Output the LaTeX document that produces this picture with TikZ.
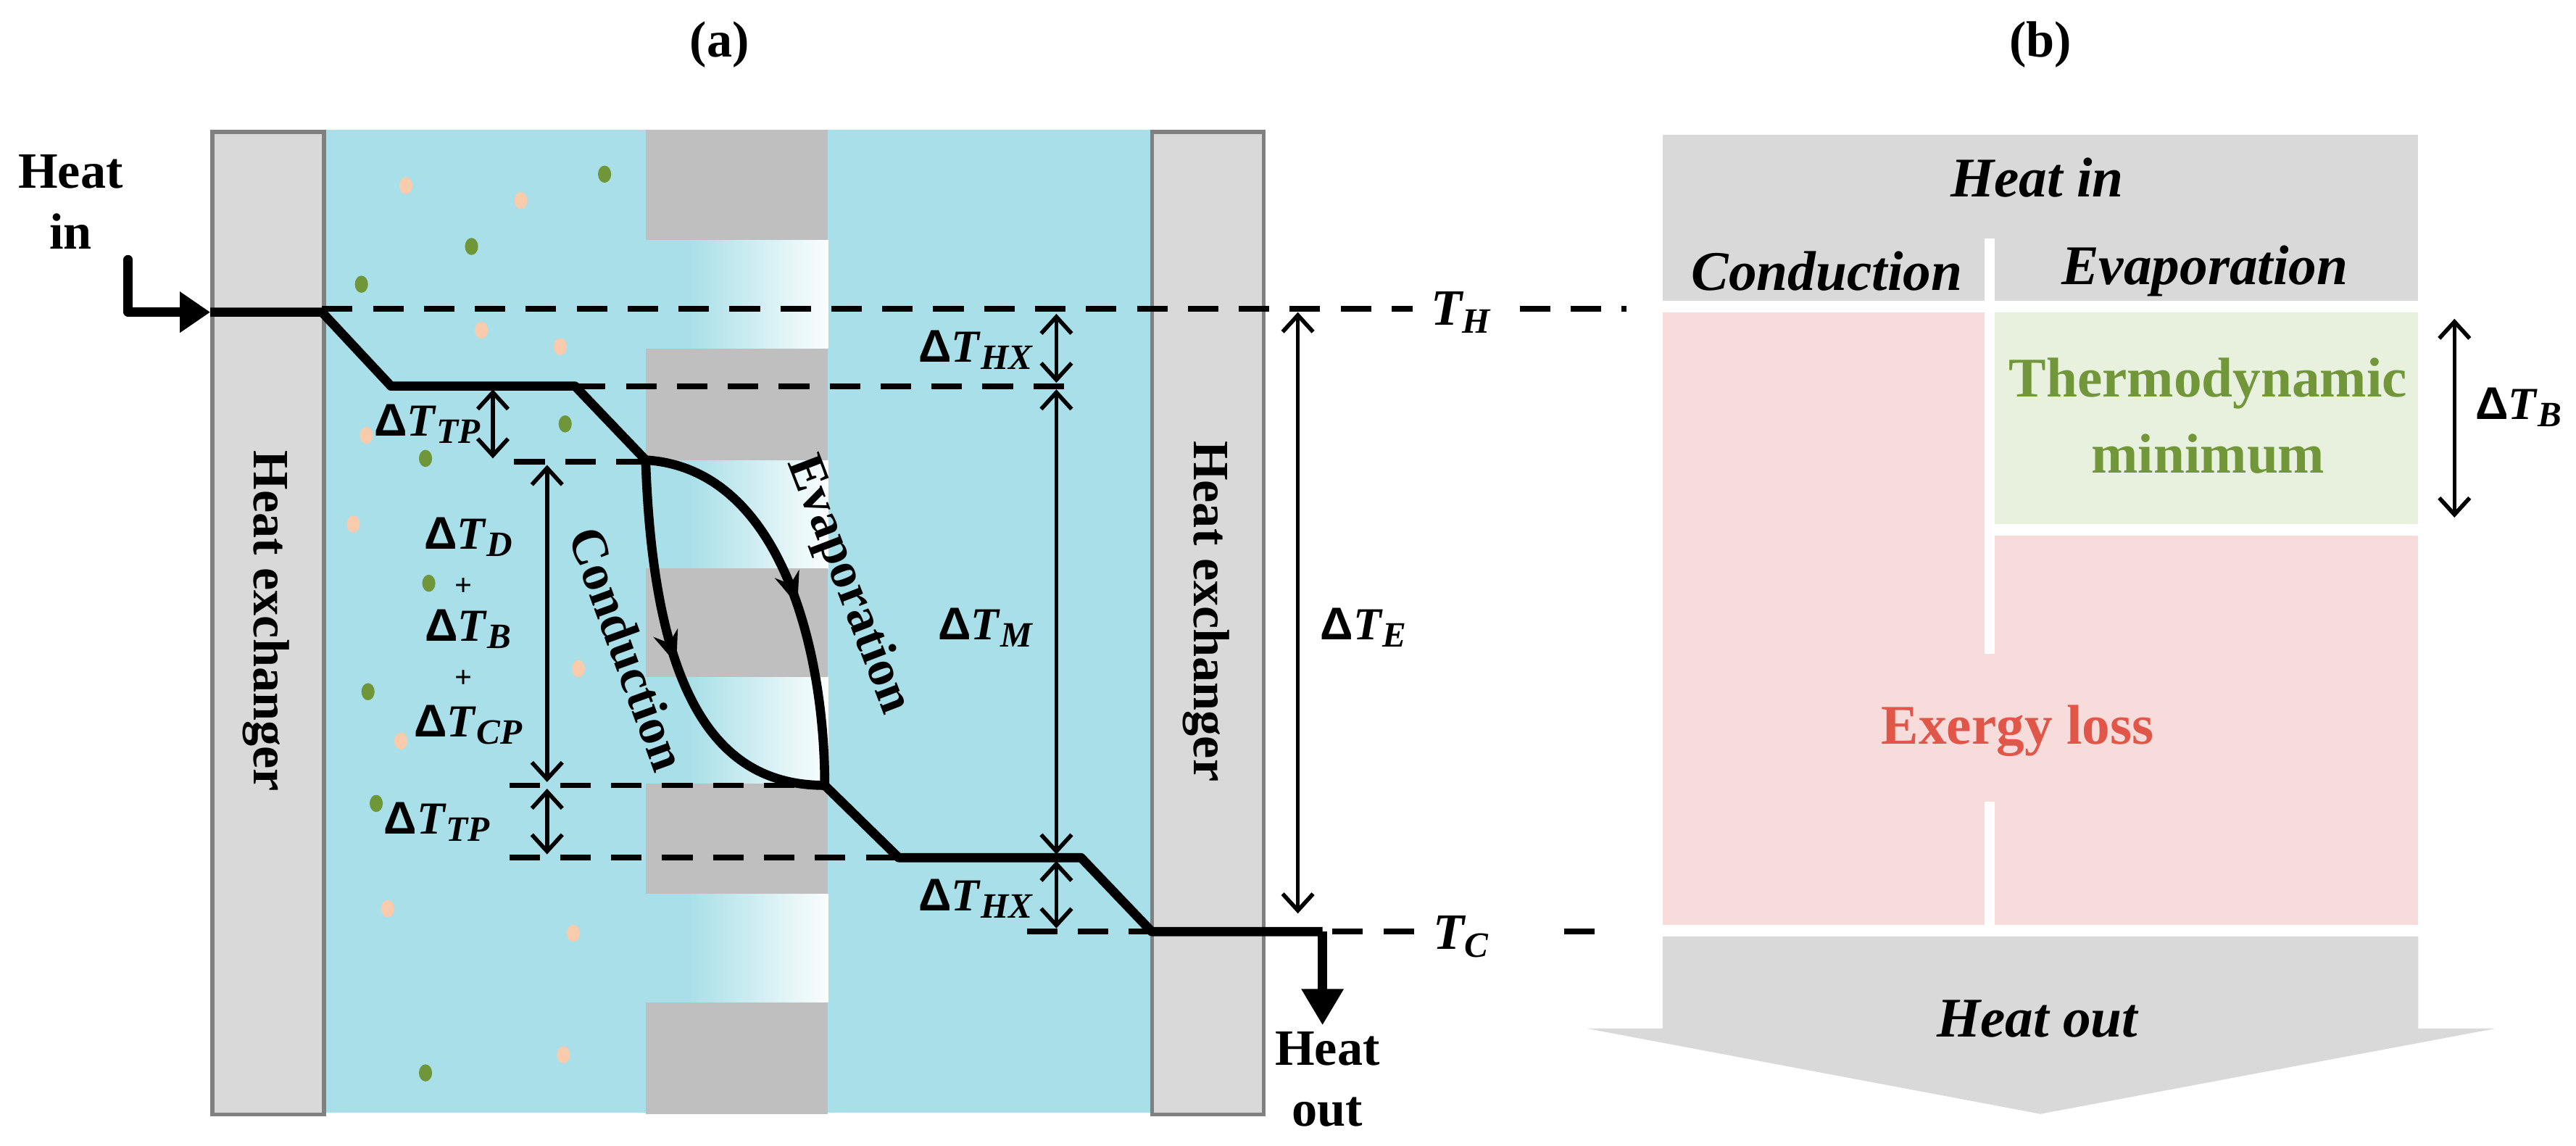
\documentclass[tikz,border=0pt]{standalone}
\usepackage{fontspec}
\setmainfont{Liberation Serif}
\newfontfamily\arialf{Liberation Sans}
\usetikzlibrary{arrows.meta,decorations.markings}
\definecolor{water}{HTML}{A8DFE8}
\definecolor{memb}{HTML}{BFBFBF}
\definecolor{hxg}{HTML}{D9D9D9}
\definecolor{hxb}{HTML}{808080}
\definecolor{dotor}{HTML}{F8CBAD}
\definecolor{dotgr}{HTML}{70963A}
\definecolor{pinkb}{HTML}{F8DCDB}
\definecolor{greenb}{HTML}{E8F1DE}
\definecolor{greent}{HTML}{72963A}
\definecolor{redt}{HTML}{E0574A}
\newcommand\dT[1]{{\arialf\bfseries Δ}\textit{T}\raisebox{-0.35ex}{\fontsize{14}{14}\selectfont\textit{#1}}}
\begin{document}
\begin{tikzpicture}[x=0.02267cm,y=-0.02267cm,
  lbl/.style={font=\fontsize{20}{22}\selectfont\bfseries},
  dlbl/.style={font=\fontsize{18}{20}\selectfont\bfseries},
  blbl/.style={font=\fontsize{22}{26}\selectfont\bfseries\itshape},
  heat/.style={line width=3.6pt,line join=round},
  dashl/.style={line width=2.2pt,dash pattern=on 12pt off 8pt},
  dim/.style={line width=1.6pt,{Straight Barb[length=0.23cm,width=0.42cm]}-{Straight Barb[length=0.23cm,width=0.42cm]}},
  dot1/.style={fill=dotor,draw=none},
  dot2/.style={fill=dotgr,draw=none},
  midarrow/.style={postaction={decorate},decoration={markings,mark=at position #1 with {\arrow{Stealth[length=0.45cm,width=0.35cm]}}}}]
\useasboundingbox (0,0) rectangle (1568,697.5);
% water
\fill[water] (196,79) rectangle (702,677);
% membrane
\foreach \a/\b in {146/212,280/346,412/477,544/610}{
  \fill[water] (393,\a) rectangle (419,\b);
  \shade[left color=water,right color=white!95!water] (419,\a) rectangle (504,\b);}
\foreach \a/\b in {79/146,212/280,346/412,477/544,610/678}{
  \fill[memb] (393,\a) rectangle (504,\b);}
% dots
\foreach \x/\y in {247/113,317/122,293/201,341/211,223/265,215/319,352/407,244/451,236/553,349/568,343/642}
  \fill[dot1] (\x,\y) ellipse (4 and 5.2);
\foreach \x/\y in {368/106,287/150,220/173,344/258,259/279,261/355,224/421,229/489,259/653}
  \fill[dot2] (\x,\y) ellipse (4 and 5.2);
% heat exchangers
\node[draw=hxb,fill=hxg,line width=1.6pt,minimum width=68*0.02267cm,minimum height=598*0.02267cm,anchor=north west] (hxL) at (128,79) {};
\node[draw=hxb,fill=hxg,line width=1.6pt,minimum width=68*0.02267cm,minimum height=598*0.02267cm,anchor=north west] (hxR) at (700,79) {};
\node[lbl,rotate=-90] (hxLt) at (162,378) {Heat exchanger};
\node[lbl,rotate=-90] (hxRt) at (734,372) {Heat exchanger};
% titles
\node[lbl] (ta) at (438,27) {(a)};
\node[lbl] (tb) at (1242,27) {(b)};
% dashed lines
\coordinate (dH1) at (196,188); \coordinate (dH2) at (860,188);
\coordinate (dH3) at (925,188); \coordinate (dH4) at (990,188);
\draw[dashl] (dH1) -- (dH2); \draw[dashl] (dH3) -- (dH4);
\node[font=\fontsize{20}{22}\selectfont\bfseries\itshape] (TH) at (889,190) {T\raisebox{-0.35ex}{\fontsize{14}{14}\selectfont H}};
\coordinate (d2a) at (350,235); \coordinate (d2b) at (657,235); \draw[dashl] (d2a) -- (d2b);
\coordinate (d3a) at (313,281); \coordinate (d3b) at (393,281); \draw[dashl] (d3a) -- (d3b);
\coordinate (d4a) at (310,478); \coordinate (d4b) at (502,478); \draw[dashl] (d4a) -- (d4b);
\coordinate (d5a) at (310,522); \coordinate (d5b) at (547,522); \draw[dashl] (d5a) -- (d5b);
\coordinate (d6a) at (625,567); \coordinate (d6b) at (862,567); \draw[dashl] (d6a) -- (d6b);
\coordinate (d6c) at (952,567); \coordinate (d6d) at (975,567); \draw[dashl] (d6c) -- (d6d);
\node[font=\fontsize{20}{22}\selectfont\bfseries\itshape] (TC) at (889,570) {T\raisebox{-0.35ex}{\fontsize{14}{14}\selectfont C}};
% heat path
\coordinate (p0) at (78,158); \coordinate (p1) at (78,190); \coordinate (p2) at (128,190);
\coordinate (p3) at (196,190); \coordinate (p4) at (238,235); \coordinate (p5) at (350,235);
\coordinate (p6) at (393,280); \coordinate (p7) at (502,478); \coordinate (p8) at (547,522);
\coordinate (p9) at (658,522); \coordinate (p10) at (701,567); \coordinate (p11) at (805,567);
\coordinate (p12) at (805,624);
\draw[heat,line cap=round,-{Triangle[length=0.42cm,width=0.54cm]}] (p0) -- (p1) -- (p2);
\draw[heat] (p2) -- (p3) -- (p4) -- (p5) -- (p6);
\draw[heat] (p7) -- (p8) -- (p9) -- (p10) -- (p11);
\draw[heat,-{Triangle[length=0.5cm,width=0.55cm]}] (p11) -- (p12);
\draw[heat,midarrow=0.5] (p6) .. controls (398,430) and (440,478) .. (p7);
\draw[heat,midarrow=0.55] (p6) .. controls (475,285) and (502,395) .. (p7);
\node[lbl,rotate=-70] (cond) at (382,395) {Conduction};
\node[lbl,rotate=-69] (evap) at (516,356) {Evaporation};
% heat in/out
\node[font=\fontsize{20}{24}\selectfont\bfseries,align=center] (hin) at (43,123) {Heat\\in};
\node[font=\fontsize{20}{24}\selectfont\bfseries,align=center] (hout) at (808,657) {Heat\\out};
% dimension arrows
\coordinate (a1t) at (643,191); \coordinate (a1b) at (643,233); \draw[dim] (a1t) -- (a1b);
\node[dlbl] (l1) at (594,213) {\dT{HX}};
\coordinate (a2t) at (300,237); \coordinate (a2b) at (300,279); \draw[dim] (a2t) -- (a2b);
\node[dlbl] (l2) at (260,258) {\dT{TP}};
\coordinate (a3t) at (333,283); \coordinate (a3b) at (333,476); \draw[dim] (a3t) -- (a3b);
\node[dlbl] (l3a) at (285,327) {\dT{D}};
\node[font=\fontsize{12}{14}\selectfont\bfseries] (l3p1) at (282,357) {+};
\node[dlbl] (l3b) at (285,383) {\dT{B}};
\node[font=\fontsize{12}{14}\selectfont\bfseries] (l3p2) at (282,413) {+};
\node[dlbl] (l3c) at (285,441) {\dT{CP}};
\coordinate (a4t) at (333,480); \coordinate (a4b) at (333,520); \draw[dim] (a4t) -- (a4b);
\node[dlbl] (l4) at (266,500) {\dT{TP}};
\coordinate (a5t) at (643,237); \coordinate (a5b) at (643,520); \draw[dim] (a5t) -- (a5b);
\node[dlbl] (l5) at (600,382) {\dT{M}};
\coordinate (a6t) at (643,524); \coordinate (a6b) at (643,565); \draw[dim] (a6t) -- (a6b);
\node[dlbl] (l6) at (594,547) {\dT{HX}};
\coordinate (a7t) at (790,190); \coordinate (a7b) at (790,556); \draw[dim] (a7t) -- (a7b);
\node[dlbl] (l7) at (830,382) {\dT{E}};
% panel b
\fill[hxg] (1012,82) rectangle (1472,183);
\fill[white] (1208,145) rectangle (1214,183);
\fill[pinkb] (1012,190) rectangle (1208,563);
\fill[greenb] (1214,190) rectangle (1472,319);
\fill[pinkb] (1214,326) rectangle (1472,563);
\fill[pinkb] (1207,398) rectangle (1215,488);
\fill[hxg] (1012,570) -- (1472,570) -- (1472,626) -- (1519,626) -- (1242,678) -- (966,626) -- (1012,626) -- cycle;
\node[blbl] (bin) at (1240,108) {Heat in};
\node[blbl] (bcond) at (1112,165) {Conduction};
\node[blbl] (bevap) at (1342,165) {Evaporation};
\node[font=\fontsize{22}{30}\selectfont\bfseries,text=greent,align=center] (thm) at (1344,253) {Thermodynamic\\minimum};
\node[font=\fontsize{22}{24}\selectfont\bfseries,text=redt] (exl) at (1228,445) {Exergy loss};
\node[blbl] (bout) at (1240,620) {Heat out};
\coordinate (bt) at (1494,194); \coordinate (bb) at (1494,315); \draw[dim] (bt) -- (bb);
\node[dlbl] (lB) at (1533,248) {\dT{B}};
\end{tikzpicture}
\end{document}
